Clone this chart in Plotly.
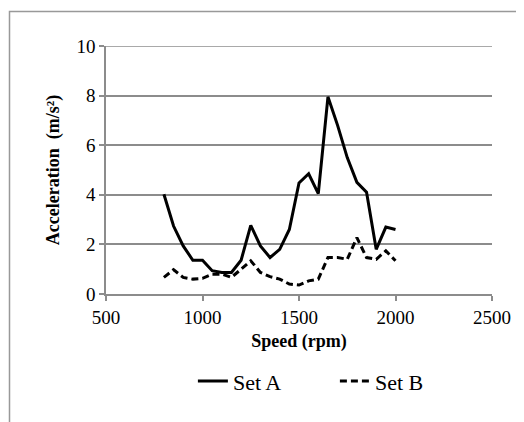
import plotly.graph_objects as go

speed = [800, 850, 900, 950, 1000, 1050, 1100, 1150, 1200, 1250, 1300, 1350, 1400,
         1450, 1500, 1550, 1600, 1650, 1700, 1750, 1800, 1850, 1900, 1950, 2000]
set_a = [4.02, 2.74, 1.94, 1.36, 1.36, 0.94, 0.87, 0.87, 1.36, 2.77, 1.94, 1.47, 1.8,
         2.6, 4.48, 4.85, 4.05, 7.95, 6.8, 5.5, 4.5, 4.1, 1.8, 2.7, 2.6]
set_b = [0.67, 0.98, 0.67, 0.6, 0.63, 0.8, 0.8, 0.67, 1.0, 1.34, 0.87, 0.7, 0.6,
         0.4, 0.36, 0.53, 0.6, 1.47, 1.47, 1.4, 2.27, 1.47, 1.4, 1.74, 1.34]

x_ticks = [500, 1000, 1500, 2000, 2500]
y_ticks = [0, 2, 4, 6, 8, 10]

font = "Liberation Serif, Times New Roman, serif"
grey = "#8c8c8c"

fig = go.Figure()
fig.add_trace(go.Scatter(x=speed, y=set_a, mode="lines", name="Set A",
                         line=dict(color="black", width=3)))
fig.add_trace(go.Scatter(x=speed, y=set_b, mode="lines", name="Set B",
                         line=dict(color="black", width=3, dash="7px,4px")))

fig.update_layout(
    width=516, height=414,
    margin=dict(l=98, r=32, t=38, b=127.5),
    paper_bgcolor="white", plot_bgcolor="white",
    font=dict(family=font, color="black", size=19),
    showlegend=True,
    legend=dict(orientation="h", x=0.593, xanchor="center", y=-0.352, yanchor="middle",
                font=dict(family=font, size=22), itemwidth=30,
                entrywidth=97, entrywidthmode="pixels"),
    xaxis=dict(range=[500, 2500], tickvals=x_ticks, showgrid=False,
               showline=True, linecolor=grey, linewidth=1.5,
               ticks="outside", ticklen=5, tickcolor=grey, tickwidth=1.5,
               tickfont=dict(size=19), zeroline=False, automargin=False,
               title=dict(text="<b>Speed (rpm)</b>", font=dict(size=18), standoff=8)),
    yaxis=dict(range=[0, 10], tickvals=y_ticks, showgrid=True, gridcolor=grey,
               gridwidth=1.5, showline=True, linecolor=grey, linewidth=1.5,
               ticks="outside", ticklen=5, tickcolor=grey, tickwidth=1.5,
               tickfont=dict(size=19), zeroline=False, automargin=False,
               title=dict(text="<b>Acceleration  (m/s²)</b>", font=dict(size=18), standoff=12)),
)

# top gridline at the last y tick
fig.add_shape(type="line", xref="paper", yref="y", x0=0, x1=1,
              y0=y_ticks[-1], y1=y_ticks[-1], line=dict(color=grey, width=1.5))

fig.add_shape(type="rect", xref="paper", yref="paper",
              x0=-0.25, x1=1.3, y0=-0.7, y1=1.139,
              line=dict(color="#999999", width=1.5), layer="below")

fig.write_html("out.html")
